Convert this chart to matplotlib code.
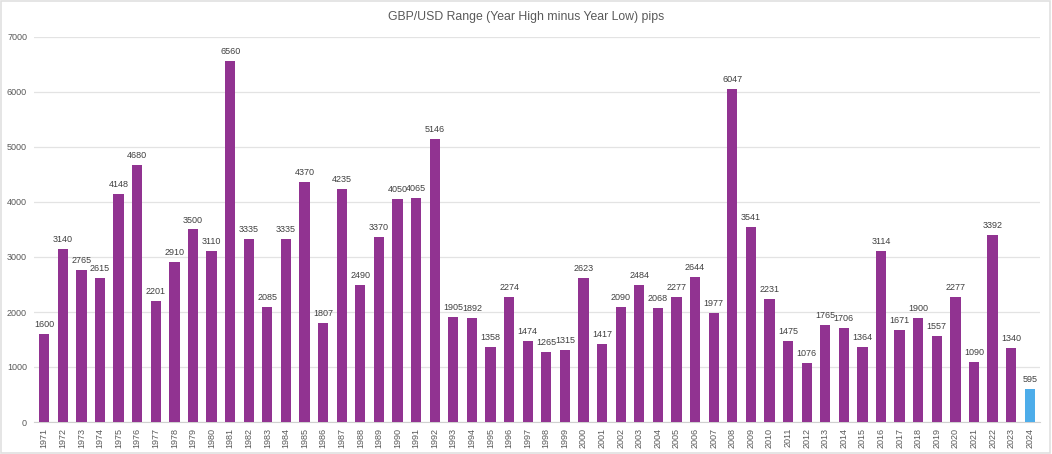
import matplotlib
matplotlib.use("Agg")
import matplotlib.pyplot as plt
from matplotlib.patches import Rectangle

years = [str(y) for y in range(1971, 2025)]
pips = [1600, 3140, 2765, 2615, 4148, 4680, 2201, 2910, 3500, 3110,
        6560, 3335, 2085, 3335, 4370, 1807, 4235, 2490, 3370, 4050,
        4065, 5146, 1905, 1892, 1358, 2274, 1474, 1265, 1315, 2623,
        1417, 2090, 2484, 2068, 2277, 2644, 1977, 6047, 3541, 2231,
        1475, 1076, 1765, 1706, 1364, 3114, 1671, 1900, 1557, 2277,
        1090, 3392, 1340, 595]

purple = "#913391"
blue = "#4DADEA"
colors = [purple] * (len(years) - 1) + [blue]

plt.rcParams['font.family'] = ['Liberation Sans', 'DejaVu Sans']

fig = plt.figure(figsize=(10.52, 4.54), dpi=100)
ax = fig.add_axes([34 / 1052, 1 - 422 / 454, (1040 - 34) / 1052, (422 - 37) / 454])

x = range(len(years))
bars = ax.bar(x, pips, width=0.55, color=colors, zorder=3)
for xi, v in zip(x, pips):
    ax.text(xi, v + 90, str(v), ha='center', va='bottom', fontsize=6.5, color='#404040')

ax.set_xlim(-0.55, len(years) - 0.45)
ax.set_ylim(0, 7000)
ax.set_yticks(range(0, 7001, 1000))
ax.set_xticks(list(x))
ax.set_xticklabels(years, rotation=90, fontsize=6.5, color='#595959')
ax.tick_params(axis='y', labelsize=6.5, labelcolor='#595959', length=0, pad=5)
ax.tick_params(axis='x', length=0, pad=4)
ax.grid(axis='y', color='#E3E3E3', linewidth=0.9, zorder=0)
for s in ['top', 'right', 'left']:
    ax.spines[s].set_visible(False)
ax.spines['bottom'].set_color('#D0D0D0')

fig.text(0.5, 1 - 17 / 454, 'GBP/USD Range (Year High minus Year Low) pips',
         ha='center', va='center', fontsize=8.8, color='#595959')

fig.patches.append(Rectangle((0.001, 0.002), 0.997, 0.995, transform=fig.transFigure,
                             fill=False, edgecolor='#E0E0E0', linewidth=1.2))

fig.savefig("out.png", dpi=100)
